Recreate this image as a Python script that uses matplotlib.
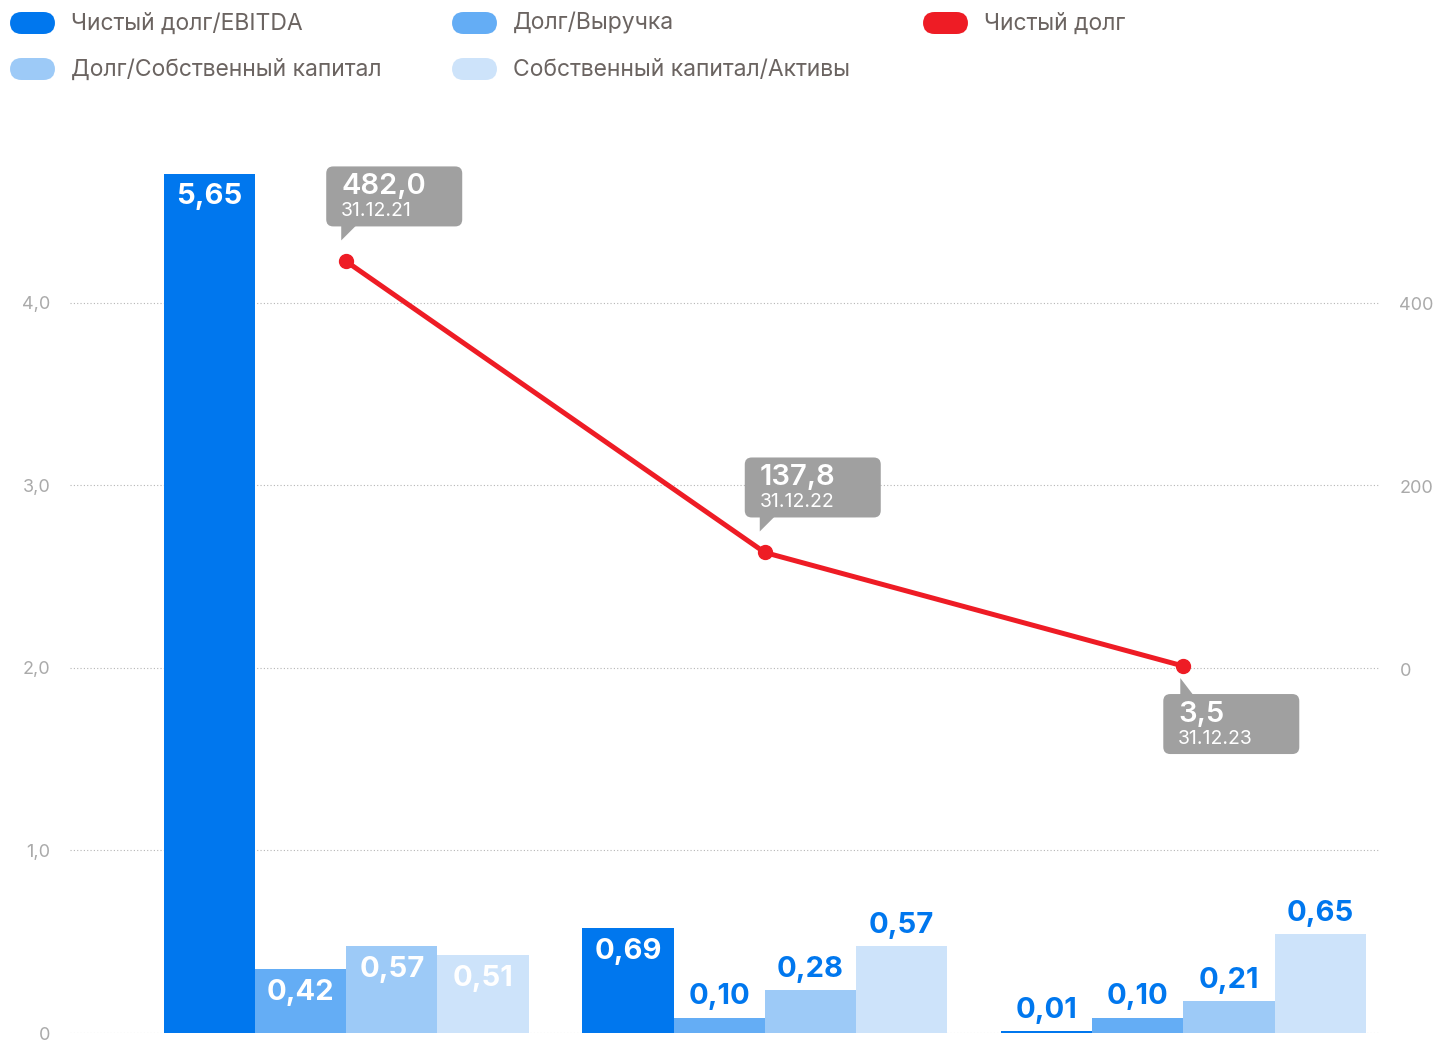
import matplotlib
matplotlib.use('Agg')
import matplotlib.pyplot as plt
import matplotlib.transforms as mtransforms
from matplotlib.patches import FancyBboxPatch, Polygon
import numpy as np

plt.rcParams['font.family'] = ['Inter', 'DejaVu Sans']

# data
years = ['31.12.21', '31.12.22', '31.12.23']
series_names = ['Чистый долг/EBITDA', 'Долг/Выручка',
                'Долг/Собственный капитал', 'Собственный капитал/Активы']
net_debt_ebitda = [5.65, 0.69, 0.01]
debt_revenue = [0.42, 0.10, 0.10]
debt_equity = [0.57, 0.28, 0.21]
equity_assets = [0.51, 0.57, 0.65]
net_debt_name = 'Чистый долг'
net_debt = [482.0, 137.8, 3.5]

left_ticks = [0, 1, 2, 3, 4]
right_ticks = [0, 200, 400]

# styling
colors = ['#0077ee', '#64adf5', '#9dcaf7', '#cde3fa']
red = '#ee1c25'
box_gray = '#a0a0a0'
text_gray = '#6b6461'
tick_gray = '#aaaaaa'
label_blue = '#0077ee'
# where each bar value sits: inside the bar top or above it
label_inside = [[True, True, False],
                [True, False, False],
                [True, False, False],
                [True, False, False]]
callout_above = [True, True, False]

# the original chart's axes are not drawn to scale; mimic its tick spacing
left_scale = 1.2
right_scale = 1.082

fig = plt.figure(figsize=(14.4, 10.4), dpi=100)
W, H = 1440, 1040
ax = fig.add_axes([70 / W, 7 / H, 1310 / W, 923 / H])
ax2 = ax.twinx()

values = [net_debt_ebitda, debt_revenue, debt_equity, equity_assets]
x = np.arange(len(years))
width = 0.218
for i, vals in enumerate(values):
    xs = x + (i - 1.5) * width
    ax.bar(xs, vals, width=width, color=colors[i], zorder=2)
    for j, v in enumerate(vals):
        txt = f'{v:.2f}'.replace('.', ',')
        if label_inside[i][j]:
            ax.annotate(txt, (xs[j], v), xytext=(0, -23), textcoords='offset pixels',
                        ha='center', va='center', fontsize=21, fontweight='bold',
                        color='white', zorder=3)
        else:
            ax.annotate(txt, (xs[j], v), xytext=(0, 21), textcoords='offset pixels',
                        ha='center', va='center', fontsize=21, fontweight='bold',
                        color=label_blue, zorder=3)

ax.set_xlim(-0.66, 2.47)
ax.set_ylim(0, 923 / 152.1)
ax.set_yticks([t * left_scale for t in left_ticks])
ax.set_yticklabels(['0' if t == 0 else f'{t:.1f}'.replace('.', ',') for t in left_ticks])
ax.grid(axis='y', linestyle=(0, (1, 2)), color='#b5b5b5', linewidth=0.8, zorder=0)
ax.set_axisbelow(True)
ax.set_xticks([])

ax2.set_ylim(-(1033 - 669) / 0.8456, (669 - 110) / 0.8456)
ax2.set_yticks([t * right_scale for t in right_ticks])
ax2.set_yticklabels([str(t) for t in right_ticks])

for a in (ax, ax2):
    for s in a.spines.values():
        s.set_visible(False)
    a.tick_params(axis='y', length=0, labelsize=13, labelcolor=tick_gray, pad=14)

ax2.plot(x, net_debt, color=red, linewidth=3.6, marker='o', markersize=10,
         zorder=4, solid_capstyle='round')

# callouts
for j, v in enumerate(net_debt):
    place = mtransforms.ScaledTranslation(x[j], v, ax2.transData)
    tr = mtransforms.IdentityTransform() + place
    if callout_above[j]:
        y0, y1 = 35, 95
        tri = [(-5, 36), (10, 36), (-5, 21)]
    else:
        y0, y1 = -88, -28
        tri = [(-3, -29), (10, -29), (-3, -12)]
    box = FancyBboxPatch((-20, y0), 136, y1 - y0, boxstyle='round,pad=0,rounding_size=7',
                         facecolor=box_gray, edgecolor='none', transform=tr, zorder=5,
                         clip_on=False)
    ax2.add_artist(box)
    ax2.add_artist(Polygon(tri, closed=True, facecolor=box_gray, edgecolor='none',
                           transform=tr, zorder=5, clip_on=False))
    ax2.annotate(f'{v:.1f}'.replace('.', ','), (x[j], v), xytext=(-5, y1 - 20),
                 textcoords='offset pixels', ha='left', va='center', fontsize=21,
                 fontweight='semibold', color='white', zorder=6)
    ax2.annotate(years[j], (x[j], v), xytext=(-5, y1 - 45),
                 textcoords='offset pixels', ha='left', va='center', fontsize=14,
                 color='white', zorder=6)

# legend
legend_items = [(series_names[0], colors[0], 10, 23), (series_names[1], colors[1], 452, 23),
                (net_debt_name, red, 923, 23), (series_names[2], colors[2], 10, 69),
                (series_names[3], colors[3], 452, 69)]
for name, c, px, py in legend_items:
    pill = FancyBboxPatch((px / W, (H - py - 11) / H), 45 / W, 22 / H,
                          boxstyle='round,pad=0,rounding_size=0.008',
                          mutation_aspect=W / H,
                          facecolor=c, edgecolor='none', transform=fig.transFigure)
    fig.patches.append(pill)
    fig.text((px + 61) / W, (H - py - 1) / H, name, ha='left', va='center',
             fontsize=16.5, color=text_gray)

fig.savefig('out.png', dpi=100)
